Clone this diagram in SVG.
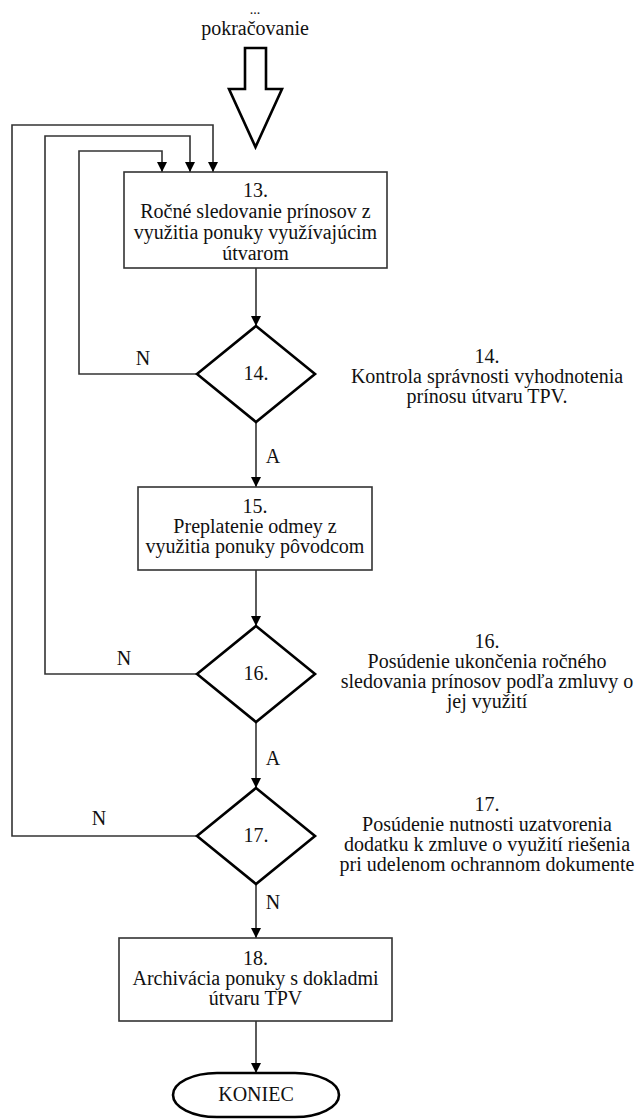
<svg xmlns="http://www.w3.org/2000/svg" width="635" height="1119" viewBox="0 0 635 1119" font-family="'Liberation Serif', 'Times New Roman', Times, 'DejaVu Serif', serif">
<style>
text{font-family:'Liberation Serif','Times New Roman',Times,'DejaVu Serif',serif;font-size:20px;fill:#111;text-anchor:middle}
.box{fill:#fff;stroke:#333;stroke-width:1.6}
.dia{fill:#fff;stroke:#000;stroke-width:2.6}
.ln{fill:none;stroke:#333;stroke-width:1.6}
</style>
<defs>
<marker id="ah" viewBox="0 0 10 10" refX="10" refY="5" markerWidth="10" markerHeight="10" markerUnits="userSpaceOnUse" orient="auto">
<path d="M0,0 L10,5 L0,10 Z" fill="#000"/>
</marker>
</defs>
<g id="start">
<text x="255" y="14" style="font-size:14px">...</text>
<text x="255" y="35">pokračovanie</text>
<polygon points="245,48 266,48 266,89 282,89 255.5,147 229,89 245,89" fill="#fff" stroke="#000" stroke-width="2.6" stroke-linejoin="miter"/>
</g>
<g id="connectors">
<line class="ln" x1="256" y1="268" x2="256" y2="326" marker-end="url(#ah)"/>
<line class="ln" x1="256" y1="422" x2="256" y2="487" marker-end="url(#ah)"/>
<line class="ln" x1="256" y1="570" x2="256" y2="626" marker-end="url(#ah)"/>
<line class="ln" x1="256" y1="722" x2="256" y2="788" marker-end="url(#ah)"/>
<line class="ln" x1="256" y1="884" x2="256" y2="938" marker-end="url(#ah)"/>
<line class="ln" x1="256" y1="1021" x2="256" y2="1073" marker-end="url(#ah)"/>
<polyline class="ln" points="197,374 79,374 79,151 162,151 162,172" marker-end="url(#ah)"/>
<polyline class="ln" points="197,674 45,674 45,136 190,136 190,172" marker-end="url(#ah)"/>
<polyline class="ln" points="197,836 12,836 12,125 213,125 213,172" marker-end="url(#ah)"/>
<text x="143" y="365">N</text>
<text x="273" y="463">A</text>
<text x="124" y="665">N</text>
<text x="273" y="765">A</text>
<text x="99" y="825">N</text>
<text x="273" y="909">N</text>
</g>
<g id="n13">
<rect class="box" x="124" y="172" width="263" height="96"/>
<text x="255.5" y="197">13.</text>
<text x="255.5" y="218">Ročné sledovanie prínosov z</text>
<text x="255.5" y="239">využitia ponuky využívajúcim</text>
<text x="255.5" y="260">útvarom</text>
</g>
<g id="n14">
<polygon class="dia" points="256,326 315,374 256,422 197,374"/>
<text x="256" y="380">14.</text>
</g>
<g id="a14">
<text x="487" y="363">14.</text>
<text x="487" y="383">Kontrola správnosti vyhodnotenia</text>
<text x="487" y="403">prínosu útvaru TPV.</text>
</g>
<g id="n15">
<rect class="box" x="138" y="487" width="234" height="83"/>
<text x="255" y="513">15.</text>
<text x="255" y="533">Preplatenie odmey z</text>
<text x="255" y="553">využitia ponuky pôvodcom</text>
</g>
<g id="n16">
<polygon class="dia" points="256,626 315,674 256,722 197,674"/>
<text x="256" y="680">16.</text>
</g>
<g id="a16">
<text x="487" y="648">16.</text>
<text x="487" y="668">Posúdenie ukončenia ročného</text>
<text x="487" y="688">sledovania prínosov podľa zmluvy o</text>
<text x="487" y="708">jej využití</text>
</g>
<g id="n17">
<polygon class="dia" points="256,788 315,836 256,884 197,836"/>
<text x="256" y="842">17.</text>
</g>
<g id="a17">
<text x="487" y="811">17.</text>
<text x="487" y="831">Posúdenie nutnosti uzatvorenia</text>
<text x="487" y="851">dodatku k zmluve o využití riešenia</text>
<text x="487" y="871">pri udelenom ochrannom dokumente</text>
</g>
<g id="n18">
<rect class="box" x="119" y="938" width="273" height="83"/>
<text x="255.5" y="965">18.</text>
<text x="255.5" y="985">Archivácia ponuky s dokladmi</text>
<text x="255.5" y="1005">útvaru TPV</text>
</g>
<g id="end">
<rect x="173" y="1073" width="166" height="44" rx="44" ry="22" fill="#fff" stroke="#000" stroke-width="2.6"/>
<text x="256" y="1101">KONIEC</text>
</g>
</svg>
